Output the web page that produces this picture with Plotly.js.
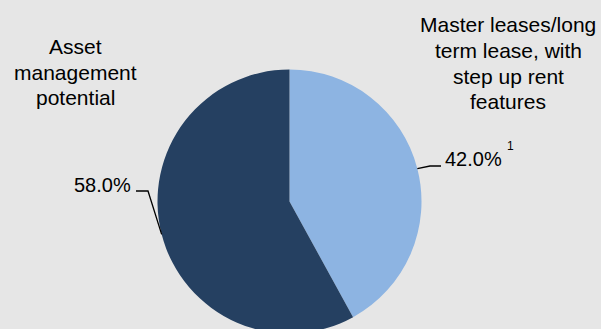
<!DOCTYPE html>
<html>
<head>
<meta charset="utf-8">
<script src="https://cdn.plot.ly/plotly-3.0.1.min.js"></script>
<style>
  html, body { margin: 0; padding: 0; overflow: hidden; background: #e6e6e6; }
  #chart { width: 601px; height: 340px; }
</style>
</head>
<body>
<div id="chart"></div>
<script>
// ---- data ----
const categories = [
  ["Master leases/long", "term lease, with", "step up rent", "features"],
  ["Asset", "management", "potential"]
];
const values = [42.0, 58.0];
const footnotes = ["1", ""];
const colors = ["#8db4e2", "#254061"];

// ---- layout geometry (pixels) ----
const W = 601, H = 340;
const cx = 289.5, cy = 201.5, r = 132;
const px = x => x / W;
const py = y => 1 - y / H;

// label placement per slice (pixels)
const place = [
  { side: 'right', catX: 508, catY0: 25, elbow: [430, 166], end: [441, 166], pctX: 443, pctY: 159, supX: 505, supY: 146 },
  { side: 'left',  catX: 75,  catY0: 47, elbow: [148, 191], end: [136, 191], pctX: 133, pctY: 185 }
];
const lineGap = 25.5;
const font = "Liberation Sans, Arial, Helvetica, sans-serif";

const total = values.reduce((a, b) => a + b, 0);
const annotations = [];
const shapes = [];
let cum = 0;
values.forEach((v, i) => {
  const mid = (cum + v / 2) / total * 2 * Math.PI; // clockwise from 12 o'clock
  cum += v;
  const p = place[i];
  const ex = cx + r * Math.sin(mid), ey = cy - r * Math.cos(mid);
  shapes.push({
    type: 'path', xref: 'paper', yref: 'paper',
    path: `M ${px(ex)},${py(ey)} L ${px(p.elbow[0])},${py(p.elbow[1])} L ${px(p.end[0])},${py(p.end[1])}`,
    line: { color: '#000', width: 1.3 }
  });
  const pct = (v / total * 100).toFixed(1) + '%';
  annotations.push({
    xref: 'paper', yref: 'paper', x: px(p.pctX), y: py(p.pctY),
    xanchor: p.side === 'right' ? 'left' : 'right', yanchor: 'middle',
    text: pct, showarrow: false, font: { family: font, size: 20, color: '#000' }
  });
  if (footnotes[i]) {
    annotations.push({
      xref: 'paper', yref: 'paper', x: px(p.supX), y: py(p.supY),
      xanchor: 'left', yanchor: 'middle',
      text: footnotes[i], showarrow: false, font: { family: font, size: 12, color: '#000' }
    });
  }
  categories[i].forEach((line, k) => {
    annotations.push({
      xref: 'paper', yref: 'paper', x: px(p.catX), y: py(p.catY0 + k * lineGap),
      xanchor: 'center', yanchor: 'middle',
      text: line, showarrow: false, font: { family: font, size: 21, color: '#000' }
    });
  });
});

const trace = {
  type: 'pie',
  values: values,
  labels: categories.map(c => c.join(' ')),
  sort: false,
  direction: 'clockwise',
  rotation: 0,
  textinfo: 'none',
  hoverinfo: 'label+percent',
  marker: { colors: colors, line: { width: 0 } },
  domain: { x: [px(cx - r), px(cx + r)], y: [py(cy + r), py(cy - r)] }
};

const layout = {
  width: W, height: H,
  margin: { l: 0, r: 0, t: 0, b: 0 },
  paper_bgcolor: '#e6e6e6',
  plot_bgcolor: '#e6e6e6',
  showlegend: false,
  annotations: annotations,
  shapes: shapes
};

Plotly.newPlot('chart', [trace], layout, { displayModeBar: false, staticPlot: true });
</script>
</body>
</html>
